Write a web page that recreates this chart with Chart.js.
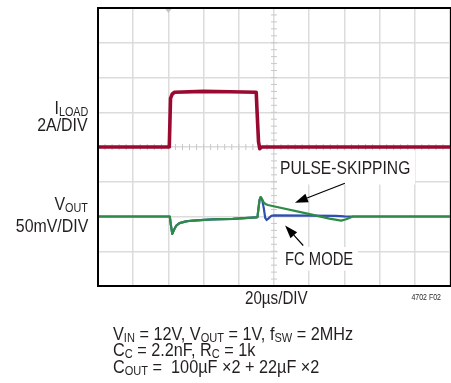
<!DOCTYPE html>
<html>
<head>
<script src="https://cdn.jsdelivr.net/npm/chart.js"></script>
<style>
  body { margin: 0; background: #fff; }
  #wrap {
    position: relative;
    width: 451px;
    height: 383px;
    font-family: "Liberation Sans", Arial, sans-serif;
    color: #231f20;
  }
  #wrap canvas { position: absolute; left: 0; top: 0; }
  .lbl {
    position: absolute; white-space: nowrap; line-height: 1; font-size: 18.5px;
    transform: scaleX(0.82); transform-origin: left top;
  }
  .lbl sub { font-size: 68%; vertical-align: baseline; position: relative; top: 0.17em; }
  .right { text-align: right; right: 363px; transform: scaleX(0.86); transform-origin: right top; }
  .note { font-size: 19px; left: 113px; transform: scaleX(0.855); }
</style>
</head>
<body>
<div id="wrap">
  <canvas id="scope" width="451" height="383"></canvas>
  <div class="lbl right" style="top:99px">I<sub>LOAD</sub></div>
  <div class="lbl right" style="top:116px">2A/DIV</div>
  <div class="lbl right" style="top:195px">V<sub>OUT</sub></div>
  <div class="lbl right" style="top:217px">50mV/DIV</div>
  <div class="lbl" style="top:159px; left:280px; transform:scaleX(0.845)">PULSE-SKIPPING</div>
  <div class="lbl" style="top:250px; left:285px; transform:scaleX(0.8)">FC MODE</div>
  <div class="lbl" style="top:289px; left:245px">20µs/DIV</div>
  <div class="lbl right" style="top:293px; right:10px; font-size:8.5px; transform:scaleX(0.82)">4702 F02</div>
  <div class="lbl note" style="top:324px">V<sub>IN</sub> = 12V, V<sub>OUT</sub> = 1V, f<sub>SW</sub> = 2MHz</div>
  <div class="lbl note" style="top:340px">C<sub>C</sub> = 2.2nF, R<sub>C</sub> = 1k</div>
  <div class="lbl note" style="top:357px">C<sub>OUT</sub> =&nbsp; 100µF ×2 + 22µF ×2</div>
</div>
<script>
// time axis: 20us/div, 10 divisions
const timeMax = 200;
const timeStep = 20;

// load current step (A), 2A/div, 0A on the centre line
const loadT = [0, 40.5, 41.2, 42.2, 43.5, 60, 75, 89.9, 90.4, 91.2, 91.9, 93, 200];
const loadA = [0, 0, 2.8, 3.05, 3.15, 3.2, 3.18, 3.15, 2.0, 0.3, -0.1, 0, 0];

// output voltage deviation (mV), 50mV/div
const fcT  = [0, 40.8, 41.4, 42.2, 43.2, 44.5, 46.3, 50, 53.9, 65, 76.6, 89.9, 90.6, 91.2, 91.8, 92.4, 93.2,
              94.2, 95.0, 95.8, 96.8, 98.5, 100, 120, 135, 140, 145, 200];
const fcMv = [0, 0, -12, -25, -19, -13, -9.5, -7, -5.8, -4.2, -3.3, -1.4, -1, 12, 24, 28, 25,
              12, -2, -5, -3, 1, 1.5, 1.2, 1, 0.3, 0, 0];

const psT  = [0, 40.8, 41.4, 42.2, 43.2, 44.5, 46.3, 50, 53.9, 65, 76.6, 89.9, 90.6, 91.2, 91.8, 92.4, 93.2,
              94.2, 95.5, 96.5, 119, 131.5, 138.2, 141, 144.8, 200];
const psMv = [0, 0, -12, -25, -19, -13, -9.5, -7, -5.8, -4.2, -3.3, -1.4, -1, 12, 24, 28, 25,
              20, 17.5, 16.5, 4.2, -3, -6, -4, 0, 0];

function pts(xs, ys) {
    return xs.map((x, i) => ({ x: x, y: ys[i] }));
}

const gridColor = '#dcdcdc';

// scope decorations: centre ticks, label boxes, frame, arrows
const scopePlugin = {
    id: 'scope',
    beforeDatasetsDraw(chart) {
        const ctx = chart.ctx;
        const a = chart.chartArea;
        const x = chart.scales.x, yI = chart.scales.yI, yV = chart.scales.yV;
        ctx.save();
        // minor ticks on the centre lines
        ctx.strokeStyle = '#c8c8c8';
        ctx.lineWidth = 1;
        const cx = x.getPixelForValue(100), cy = yI.getPixelForValue(0);
        ctx.beginPath();
        for (let t = 0; t <= timeMax; t += 4) {
            const px = x.getPixelForValue(t);
            ctx.moveTo(px, cy - 3); ctx.lineTo(px, cy + 3);
        }
        for (let v = -8; v <= 8; v += 0.4) {
            const py = yI.getPixelForValue(v);
            ctx.moveTo(cx - 3, py); ctx.lineTo(cx + 3, py);
        }
        ctx.stroke();
        // white boxes behind the trace labels
        ctx.fillStyle = '#fff';
        const boxes = [[101.7, 180.1, 95, 46], [102.1, 147.7, -44, -78]];
        boxes.forEach(b => {
            const x0 = x.getPixelForValue(b[0]), x1 = x.getPixelForValue(b[1]);
            const y0 = yV.getPixelForValue(b[2]), y1 = yV.getPixelForValue(b[3]);
            ctx.fillRect(x0, y0, x1 - x0, y1 - y0);
        });
        // trigger marker
        ctx.fillStyle = '#c4c4c4';
        const tx = x.getPixelForValue(40);
        ctx.beginPath();
        ctx.moveTo(tx - 3, a.top + 1); ctx.lineTo(tx + 3, a.top + 1); ctx.lineTo(tx, a.top + 5);
        ctx.fill();
        ctx.restore();
    },
    afterDatasetsDraw(chart) {
        const ctx = chart.ctx;
        const a = chart.chartArea;
        const x = chart.scales.x, yV = chart.scales.yV;
        ctx.save();
        ctx.strokeStyle = '#000';
        ctx.lineWidth = 2;
        ctx.strokeRect(a.left, a.top, a.right - a.left + 1, a.bottom - a.top);
        // arrows pointing at the traces
        const arrows = [[140.3, 47.9, 111.9, 19.7], [116.6, -41.7, 106.3, -13]];
        ctx.fillStyle = '#000';
        ctx.lineWidth = 1.2;
        arrows.forEach(r => {
            const x0 = x.getPixelForValue(r[0]), y0 = yV.getPixelForValue(r[1]);
            const x1 = x.getPixelForValue(r[2]), y1 = yV.getPixelForValue(r[3]);
            const ang = Math.atan2(y1 - y0, x1 - x0);
            const hl = 13, hw = 4.5;
            const bx = x1 - hl * Math.cos(ang), by = y1 - hl * Math.sin(ang);
            ctx.beginPath();
            ctx.moveTo(x0, y0); ctx.lineTo(bx, by);
            ctx.stroke();
            ctx.beginPath();
            ctx.moveTo(x1, y1);
            ctx.lineTo(bx + hw * Math.sin(ang), by - hw * Math.cos(ang));
            ctx.lineTo(bx - hw * Math.sin(ang), by + hw * Math.cos(ang));
            ctx.closePath();
            ctx.fill();
        });
        ctx.restore();
    }
};

new Chart(document.getElementById('scope'), {
    type: 'line',
    data: {
        datasets: [{
            label: 'PULSE-SKIPPING',
            data: pts(psT, psMv),
            yAxisID: 'yV',
            borderColor: '#2e8b45',
            borderWidth: 2.2,
            order: 0
        }, {
            label: 'FC MODE',
            data: pts(fcT, fcMv),
            yAxisID: 'yV',
            borderColor: '#2f4fb0',
            borderWidth: 2.2,
            order: 1
        }, {
            label: 'ILOAD',
            data: pts(loadT, loadA),
            yAxisID: 'yI',
            borderColor: '#9a0a30',
            borderWidth: 3.6,
            order: 2
        }]
    },
    options: {
        responsive: false,
        animation: false,
        events: [],
        layout: { padding: { left: 98, top: 8, right: 1, bottom: 97 } },
        elements: {
            point: { radius: 0 },
            line: { tension: 0, borderJoinStyle: 'round' }
        },
        plugins: {
            legend: { display: false },
            tooltip: { enabled: false }
        },
        scales: {
            x: {
                type: 'linear',
                min: 0,
                max: timeMax,
                ticks: { display: false, stepSize: timeStep },
                grid: { color: gridColor, lineWidth: 1.5, drawTicks: false },
                border: { display: false }
            },
            yI: {
                type: 'linear',
                position: 'left',
                min: -8,
                max: 8,
                ticks: { display: false, stepSize: 2 },
                grid: { color: gridColor, lineWidth: 1.5, drawTicks: false },
                border: { display: false }
            },
            yV: {
                type: 'linear',
                position: 'right',
                min: -100,
                max: 300,
                display: false
            }
        }
    },
    plugins: [scopePlugin]
});
</script>
</body>
</html>
